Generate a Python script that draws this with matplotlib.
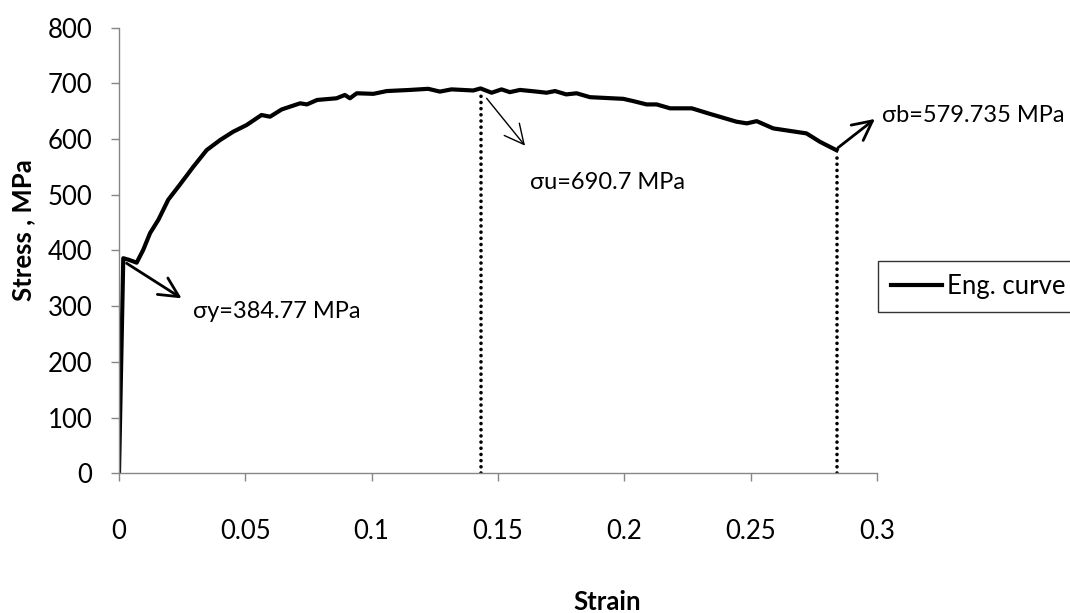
import matplotlib
matplotlib.use("Agg")
import matplotlib.pyplot as plt

plt.rcParams['font.family'] = ['Lato', 'DejaVu Sans']

# engineering stress-strain curve
strain = [0, 0.0017, 0.004, 0.007, 0.0096, 0.0123, 0.0156, 0.0195, 0.0241, 0.0294,
          0.0347, 0.040, 0.0452, 0.0505, 0.0564, 0.0598, 0.0644, 0.0717, 0.0744, 0.0784,
          0.0861, 0.0894, 0.0914, 0.0941, 0.1007, 0.106, 0.1152, 0.1224, 0.127, 0.1316,
          0.1402, 0.1431, 0.1475, 0.1514, 0.1547, 0.1587, 0.1653, 0.1692, 0.1726, 0.177,
          0.1811, 0.1864, 0.1996, 0.2035, 0.2088, 0.2128, 0.2181, 0.2267, 0.2339, 0.2444,
          0.2485, 0.2524, 0.2589, 0.2721, 0.2774, 0.284]
stress = [0, 386, 383, 378, 401, 431, 455, 491, 518, 550,
          580, 598, 613, 625, 643, 640, 653, 664, 662, 670,
          673, 679, 673, 682, 681, 686, 688, 690, 685, 689,
          687, 690.7, 683, 689, 684, 688, 685, 683, 686, 680,
          682, 675, 672, 668, 662, 662, 655, 655, 645, 631,
          628, 632, 619, 610, 595, 579.735]

x_ticks = [0, 0.05, 0.1, 0.15, 0.2, 0.25, 0.3]
x_labels = ['0', '0.05', '0.1', '0.15', '0.2', '0.25', '0.3']
y_ticks = [0, 100, 200, 300, 400, 500, 600, 700, 800]

sy = (0.0017, 384.77)
su = (0.1431, 690.7)
sb = (0.284, 579.735)

fs = 17
fs_tick = 18.5
gray = '#868686'

fig = plt.figure(figsize=(10.7, 6.13), dpi=100)
ax = fig.add_axes([0.1112, 0.2279, 0.7084, 0.7272])

ax.plot(strain, stress, color='black', lw=3, solid_joinstyle='round',
        label='Eng. curve')

# dotted drop lines at UTS and break
ax.plot([su[0], su[0]], [0, 680], color='black', lw=2.6,
        linestyle=(0, (0.01, 1.7)), dash_capstyle='round')
ax.plot([sb[0], sb[0]], [0, sb[1] - 3], color='black', lw=2.6,
        linestyle=(0, (0.01, 1.7)), dash_capstyle='round')

ax.annotate('', xy=(0.0248, 314), xytext=(0.003, 377),
            arrowprops=dict(arrowstyle='->,head_length=0.7,head_width=0.35',
                            lw=2, color='black', shrinkA=0, shrinkB=0,
                            mutation_scale=20))
ax.annotate('', xy=(0.1607, 588), xytext=(0.1455, 673),
            arrowprops=dict(arrowstyle='->,head_length=0.7,head_width=0.35',
                            lw=1, color='black', shrinkA=0, shrinkB=0,
                            mutation_scale=20))
ax.annotate('', xy=(0.2992, 636), xytext=(0.2845, 584),
            arrowprops=dict(arrowstyle='->,head_length=0.7,head_width=0.35',
                            lw=2, color='black', shrinkA=0, shrinkB=0,
                            mutation_scale=20), annotation_clip=False)

ax.text(0.0292, 290, 'σy=384.77 MPa', fontsize=fs, ha='left', va='center')
ax.text(0.1627, 521, 'σu=690.7 MPa', fontsize=fs, ha='left', va='center')
ax.text(0.302, 643, 'σb=579.735 MPa', fontsize=fs, ha='left', va='center',
        clip_on=False)

ax.set_xlim(0, 0.3)
ax.set_ylim(0, 800)
ax.set_xticks(x_ticks)
ax.set_xticklabels(x_labels)
ax.set_yticks(y_ticks)

for s in ['top', 'right']:
    ax.spines[s].set_visible(False)
for s in ['left', 'bottom']:
    ax.spines[s].set_color(gray)
    ax.spines[s].set_linewidth(1)
ax.tick_params(axis='both', colors=gray, labelcolor='black', labelsize=fs_tick,
               length=6, width=1)
ax.tick_params(axis='x', pad=27)
ax.tick_params(axis='y', pad=13)

ax.set_xlabel('Strain', fontsize=fs_tick, fontweight='bold')
ax.xaxis.set_label_coords(0.644, -0.262)
ax.set_ylabel('Stress , MPa', fontsize=fs_tick, fontweight='bold', va='center')
ax.yaxis.set_label_coords(-0.126, 0.545)

leg = ax.legend(loc='upper left', bbox_to_anchor=(0.8206, 0.5742),
                bbox_transform=fig.transFigure, fontsize=fs_tick, frameon=True,
                fancybox=False, borderaxespad=0, borderpad=0.5,
                handlelength=2.0, handletextpad=0.2)
leg.get_frame().set_edgecolor('black')
leg.get_frame().set_linewidth(1)

fig.savefig('out.png', dpi=100)
